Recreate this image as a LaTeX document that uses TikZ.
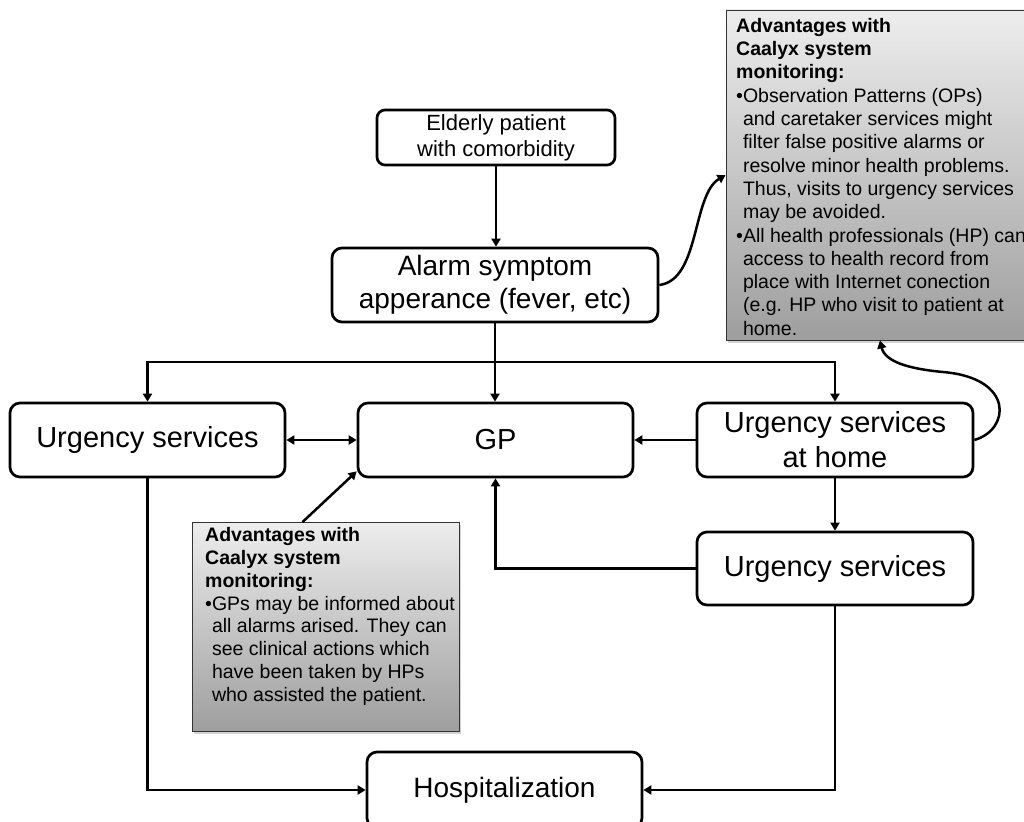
\documentclass[tikz,border=0pt]{standalone}
\usepackage{fontspec}
\setmainfont{Liberation Sans}
\usetikzlibrary{arrows.meta,shadows}
\begin{document}
\begin{tikzpicture}[x=1pt,y=-1pt,
  >={Triangle[length=8pt,width=9pt]},
  box/.style={draw, line width=2.7pt, rounded corners=10pt, align=center,
    inner sep=0pt, font=\fontsize{29}{35}\selectfont},
  conn/.style={line width=2.5pt, ->},
  annot/.style={draw=black!80, line width=0.9pt, inner sep=0pt,
    top color=black!7, bottom color=black!38,
    drop shadow={shadow xshift=2pt, shadow yshift=-2.5pt, opacity=0.35}},
  annottext/.style={anchor=north west, inner sep=0pt, align=left}
]
\useasboundingbox (0,0) rectangle (1024,821);
\clip (0,0) rectangle (1024,821);

% flow boxes
\node[box, minimum width=238pt, minimum height=55pt, rounded corners=8pt,
  font=\fontsize{22}{26}\selectfont] (eld) at (496,137.5) {Elderly patient\\with comorbidity};
\node[box, minimum width=326pt, minimum height=74pt,
  font=\fontsize{28}{33}\selectfont] (alarm) at (495,285) {Alarm symptom\\apperance (fever, etc)};
\node[box, minimum width=275pt, minimum height=74pt] (usl) at (147.5,440) {Urgency services};
\node[box, minimum width=275pt, minimum height=74pt] (gp) at (495.5,440) {GP};
\node[box, minimum width=276pt, minimum height=74pt] (ush) at (835,440) {Urgency services\\at home};
\node[box, minimum width=276pt, minimum height=73pt] (usr) at (835,568.5) {Urgency services};
\node[box, minimum width=275pt, minimum height=76pt,
  font=\fontsize{28}{33}\selectfont] (hosp) at (504.5,790) {Hospitalization};

% annotation panels
\node[annot, minimum width=314pt, minimum height=330pt] (advtop) at (883,175) {};
\node[annottext, font=\fontsize{19.5}{23.3}\selectfont] (advtoptext) at (736,18) {%
  \textbf{Advantages with}\\
  \textbf{Caalyx system}\\
  \textbf{monitoring:}\\
  \textbullet Observation Patterns (OPs)\\
  \phantom{\textbullet}and caretaker services might\\
  \phantom{\textbullet}filter false positive alarms or\\
  \phantom{\textbullet}resolve minor health problems.\\
  \phantom{\textbullet}Thus, visits to urgency services\\
  \phantom{\textbullet}may be avoided.\\
  \textbullet All health professionals (HP) can\\
  \phantom{\textbullet}access to health record from\\
  \phantom{\textbullet}place with Internet conection\\
  \phantom{\textbullet}(e.g. HP who visit to patient at\\
  \phantom{\textbullet}home.};

\node[annot, minimum width=267pt, minimum height=209pt] (advgp) at (325.5,627) {};
\node[annottext, font=\fontsize{19.5}{22.9}\selectfont] (advgptext) at (205,527) {%
  \textbf{Advantages with}\\
  \textbf{Caalyx system}\\
  \textbf{monitoring:}\\
  \textbullet GPs may be informed about\\
  \phantom{\textbullet}all alarms arised. They can\\
  \phantom{\textbullet}see clinical actions which\\
  \phantom{\textbullet}have been taken by HPs\\
  \phantom{\textbullet}who assisted the patient.};

% connectors
\coordinate (split) at (495,362);
\draw[conn] (eld.south) -- (eld.south |- alarm.north);
\draw[conn] (alarm.south) -- (alarm.south |- gp.north);
\draw[conn] (split) -| (usl.north);
\draw[conn] (split) -| (ush.north);
\draw[line width=2.5pt, <->] (usl.east) -- (gp.west);
\draw[conn] (ush.west) -- (gp.east);
\draw[conn] (ush.south) -- (usr.north);
\draw[conn] (usr.west) -| (gp.south);
\draw[conn] (usl.south) |- (hosp.west);
\draw[conn] (usr.south) |- (hosp.east);
\draw[conn] ([xshift=-23pt]advgp.north) -- ([yshift=7pt]gp.south west);
\draw[conn] (alarm.east) .. controls (700,280) and (692,195) .. (advtop.west);
\draw[conn] (ush.east) .. controls (1010,430) and (1015,378) .. (943,372)
  .. controls (910,369) and (885,362) .. (advtop.south -| 880,0);
\end{tikzpicture}
\end{document}
